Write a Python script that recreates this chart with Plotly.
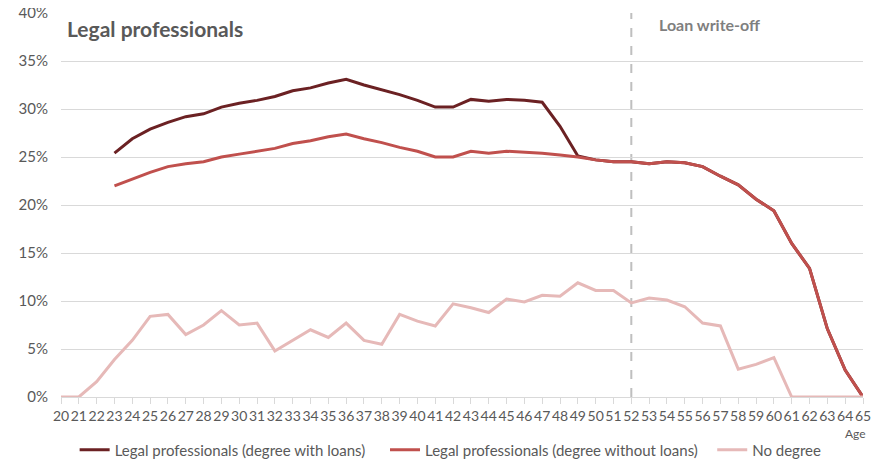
import plotly.graph_objects as go

# Age axis
ages = list(range(20, 66))

# Legal professionals (degree with loans), ages 23-65
with_loans_ages = list(range(23, 66))
with_loans = [25.4, 26.9, 27.9, 28.6, 29.2, 29.5, 30.2, 30.6, 30.9, 31.3,
              31.9, 32.2, 32.7, 33.1, 32.5, 32.0, 31.5, 30.9, 30.2, 30.2,
              31.0, 30.8, 31.0, 30.9, 30.7, 28.2, 25.1, 24.7, 24.5, 24.5,
              24.3, 24.5, 24.4, 24.0, 23.0, 22.1, 20.6, 19.4, 16.0, 13.4,
              7.1, 2.8, 0.0]

# Legal professionals (degree without loans), ages 23-65
without_loans_ages = list(range(23, 66))
without_loans = [22.0, 22.7, 23.4, 24.0, 24.3, 24.5, 25.0, 25.3, 25.6, 25.9,
                 26.4, 26.7, 27.1, 27.4, 26.9, 26.5, 26.0, 25.6, 25.0, 25.0,
                 25.6, 25.4, 25.6, 25.5, 25.4, 25.2, 25.0, 24.7, 24.5, 24.5,
                 24.3, 24.5, 24.4, 24.0, 23.0, 22.1, 20.6, 19.4, 16.0, 13.4,
                 7.1, 2.8, 0.0]

# No degree, ages 20-65
no_degree = [0.0, 0.0, 1.6, 3.9, 5.9, 8.4, 8.6, 6.5, 7.5, 9.0,
             7.5, 7.7, 4.8, 5.9, 7.0, 6.2, 7.7, 5.9, 5.5, 8.6,
             7.9, 7.4, 9.7, 9.3, 8.8, 10.2, 9.9, 10.6, 10.5, 11.9,
             11.1, 11.1, 9.8, 10.3, 10.1, 9.4, 7.7, 7.4, 2.9, 3.4,
             4.1, 0.0, 0.0, 0.0, 0.0, 0.0]

write_off_age = 52

FONT = 'Lato, Open Sans, sans-serif'
GREY = '#595959'

fig = go.Figure()

fig.add_trace(go.Scatter(
    x=with_loans_ages, y=[v / 100 for v in with_loans],
    name='Legal professionals (degree with loans)', legend='legend',
    mode='lines', line={'color': '#6b2123', 'width': 3},
))
fig.add_trace(go.Scatter(
    x=without_loans_ages, y=[v / 100 for v in without_loans],
    name='Legal professionals (degree without loans)', legend='legend2',
    mode='lines', line={'color': '#c0504d', 'width': 3},
))
fig.add_trace(go.Scatter(
    x=ages, y=[v / 100 for v in no_degree],
    name='No degree', legend='legend3',
    mode='lines', line={'color': '#e6b9b8', 'width': 3},
))

# Loan write-off marker
fig.add_shape(
    type='line', xref='x', yref='y',
    x0=write_off_age, x1=write_off_age, y0=0, y1=0.4,
    line={'color': '#bfbfbf', 'width': 2, 'dash': 'dash'},
    layer='below',
)

fig.add_annotation(
    text='<b>Legal professionals</b>', xref='x', yref='y',
    x=20.2, y=0.384, xanchor='left', yanchor='middle', showarrow=False,
    font={'size': 21, 'color': GREY, 'family': FONT},
)
fig.add_annotation(
    text='<b>Loan write-off</b>', xref='x', yref='y',
    x=53.45, y=0.388, xanchor='left', yanchor='middle', showarrow=False,
    font={'size': 16, 'color': '#7f7f7f', 'family': FONT},
)
fig.add_annotation(
    text='Age', xref='x', yref='paper',
    x=64.6, y=-0.096, xanchor='center', yanchor='middle', showarrow=False,
    font={'size': 12, 'color': GREY, 'family': FONT},
)


def legend_at(x):
    return {
        'orientation': 'h', 'x': x, 'xanchor': 'left',
        'y': -0.138, 'yanchor': 'middle',
        'font': {'size': 15, 'color': GREY, 'family': FONT},
        'itemwidth': 30, 'bgcolor': 'rgba(0,0,0,0)',
    }


# page body adds an 8px margin, so margins are shifted by 8px
fig.update_layout(
    width=879, height=460,
    margin={'l': 53, 'r': 24, 't': 5, 'b': 71, 'autoexpand': False},
    plot_bgcolor='white', paper_bgcolor='white',
    font={'family': FONT, 'color': GREY},
    showlegend=True,
    legend=legend_at(0.017),
    legend2=legend_at(0.404),
    legend3=legend_at(0.812),
)

fig.update_xaxes(
    range=[20, 65], tickmode='array', tickvals=ages,
    ticktext=[str(a) for a in ages], tickangle=0,
    tickfont={'size': 14, 'color': GREY}, ticklabeloverflow='allow',
    showgrid=False, zeroline=False, automargin=False,
    showline=True, linecolor='#d9d9d9', linewidth=1,
    ticks='outside', ticklen=6, tickcolor='#d9d9d9',
)
fig.update_yaxes(
    range=[0, 0.4], dtick=0.05, tickformat='.0%',
    tickfont={'size': 15, 'color': GREY}, ticklabeloverflow='allow',
    automargin=False,
    showgrid=True, gridcolor='#d9d9d9', gridwidth=1,
    zeroline=False, showline=False,
    ticklabelstandoff=12,
)

fig.write_html('out.html')
